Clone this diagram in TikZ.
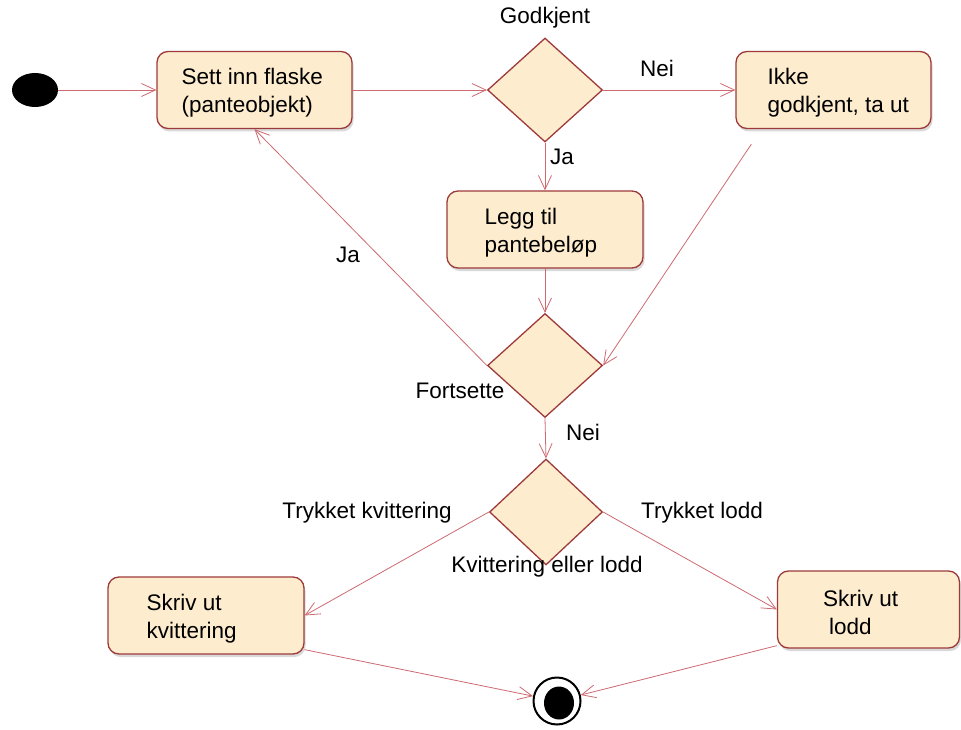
\documentclass[tikz,border=0pt]{standalone}
\usepackage{fontspec}
\setmainfont{Liberation Sans}
\usetikzlibrary{shapes,shadows,arrows.meta}
\definecolor{boksfyll}{RGB}{253,236,206}
\definecolor{kant}{RGB}{158,58,58}
\definecolor{pil}{RGB}{205,105,112}
\tikzset{
  boks/.style={rectangle, rounded corners=11pt, draw=kant, line width=1.3pt,
    fill=boksfyll, minimum height=77pt, inner sep=0pt,
    drop shadow={shadow xshift=1.5pt, shadow yshift=-3pt, opacity=0.3}},
  tekst/.style={font=\fontsize{22.5}{28}\selectfont, align=left, inner sep=0pt},
  valg/.style={diamond, draw=kant, line width=1.3pt, fill=boksfyll,
    inner sep=0pt, minimum width=115pt, minimum height=104pt},
  pilen/.style={draw=pil, line width=0.8pt,
    -{Straight Barb[length=14pt, width=13pt, line width=0.8pt]}},
}
\newcommand{\aktivitet}[6]{
  \node[boks, minimum width=#4] (#1) at (#2,#3) {};
  \node[tekst, anchor=west, xshift=#5, yshift=-3pt] (#1t) at (#1.west) {#6};
}
\newcommand{\etikett}[4]{\node[tekst] (#1) at (#2,#3) {#4};}

\begin{document}
\begin{tikzpicture}[x=1pt, y=-1pt]
  \useasboundingbox (0,0) rectangle (961,730);

  % Noder
  % =====

  \node[ellipse, fill=black, minimum width=46pt, minimum height=34pt, inner sep=0pt] (start) at (35,90) {};

  \aktivitet{sett}{254.5}{90}{195}{25}{Sett inn flaske\\(panteobjekt)}
  \node[valg] (godkjent) at (545,90) {};
  \aktivitet{ikke}{833.5}{90}{195}{32}{Ikke\\godkjent, ta ut}
  \aktivitet{legg}{545}{229.5}{196}{38}{Legg til\\pantebeløp}
  \node[valg] (fortsette) at (545,365.5) {};
  \node[valg, minimum width=113pt, minimum height=106pt] (kvittlodd) at (546,512) {};
  \aktivitet{kvitt}{206}{615.5}{196}{39}{Skriv ut\\kvittering}
  \aktivitet{lodd}{868.5}{609.5}{182}{46}{Skriv ut\\\hspace{6pt}lodd}

  % Slutt
  % -----
  \node[circle, draw=black, line width=2pt, fill=white, minimum size=47pt, inner sep=0pt] (slutt) at (557,701) {};
  \node[ellipse, fill=black, minimum width=30pt, minimum height=33pt, inner sep=0pt] (sluttkjerne) at (559,703) {};

  % Tekster
  % =======

  \etikett{godkjenttekst}{545}{18}{Godkjent}
  \etikett{fortsettetekst}{460}{391}{Fortsette}
  \etikett{kvittloddtekst}{547}{567}{Kvittering eller lodd}
  \etikett{nei1}{657}{68}{Nei}
  \etikett{ja1}{562}{157}{Ja}
  \etikett{ja2}{348}{255}{Ja}
  \etikett{nei2}{583}{432}{Nei}
  \etikett{trykkkvitt}{367}{513}{Trykket kvittering}
  \etikett{trykklodd}{702}{513}{Trykket lodd}

  % Overganger
  % ==========

  \draw[pilen] (start) -- (sett);
  \draw[pilen] (sett) -- (godkjent);
  \draw[pilen] (godkjent.east) -- (ikke);
  \draw[pilen] (godkjent.south) -- (legg);
  \draw[pilen] (legg) -- (fortsette.north);
  \draw[pilen] ([shift={(16,15)}]ikke.south west) -- (fortsette.east);
  \draw[pilen] (fortsette.west) -- (sett.south);
  \draw[pilen] (fortsette.south) -- (kvittlodd.north);
  \draw[pilen] (kvittlodd.west) -- (kvitt.east);
  \draw[pilen] (kvittlodd.east) -- (lodd.west);
  \draw[pilen] ([shift={(0,-5)}]kvitt.south east) -- (slutt);
  \draw[pilen] ([shift={(0,-3)}]lodd.south west) -- (slutt);

\end{tikzpicture}
\end{document}
